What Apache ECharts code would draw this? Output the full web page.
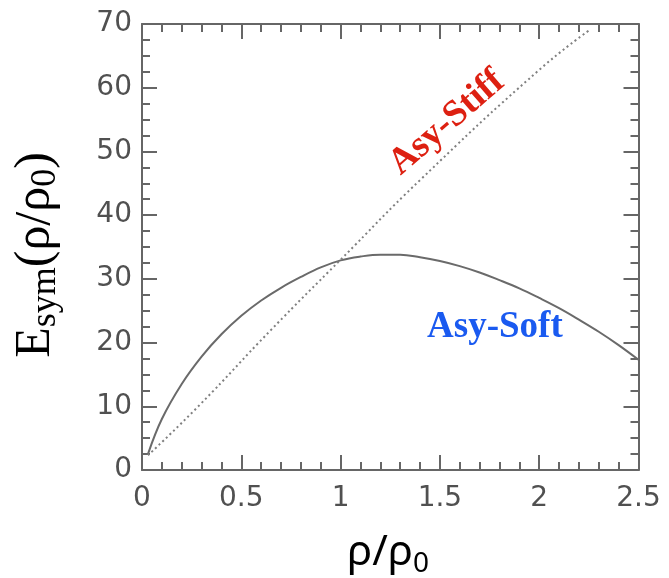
<!DOCTYPE html>
<html>
<head>
<meta charset="utf-8">
<script src="https://cdn.jsdelivr.net/npm/echarts@6/dist/echarts.min.js"></script>
<style>
  html, body { margin: 0; padding: 0; background: #fff; }
  #chart { width: 669px; height: 578px; }
</style>
</head>
<body>
<div id="chart"></div>
<script>
// Axis ranges and tick values
const xTicks = [0, 0.5, 1, 1.5, 2, 2.5];
const yTicks = [0, 10, 20, 30, 40, 50, 60, 70];

// Asy-Soft symmetry energy (density ratio, MeV)
const softRho = [0.03, 0.1, 0.2, 0.3, 0.4, 0.5, 0.6, 0.7, 0.8, 0.9, 1.0, 1.1, 1.2, 1.3,
                 1.4, 1.5, 1.6, 1.7, 1.8, 1.9, 2.0, 2.1, 2.2, 2.3, 2.4, 2.5];
const softE   = [2.5, 8.0, 13.5, 17.8, 21.3, 24.2, 26.6, 28.6, 30.3, 31.8, 32.9, 33.5, 33.8, 33.8,
                 33.4, 32.8, 32.0, 31.0, 29.8, 28.5, 27.0, 25.4, 23.6, 21.7, 19.6, 17.3];

// Asy-Stiff symmetry energy
const stiffRho = [0.03, 0.29, 0.65, 1.00, 1.40, 2.00, 2.26];
const stiffE   = [2.3, 10.2, 22.0, 33.0, 45.5, 62.8, 69.2];

// Curve annotations: [rho, E] anchor of each label
const stiffLabelAt = [1.536, 54.5];
const softLabelAt  = [1.777, 22.3];

const axisColor = '#666';
const tickLabelColor = '#505050';

function pairs(xs, ys) { return xs.map((x, i) => [x, ys[i]]); }

function xAxisCfg(pos, showLabels) {
  return {
    type: 'value', position: pos,
    min: xTicks[0], max: xTicks[xTicks.length - 1], interval: xTicks[1] - xTicks[0],
    axisLine: { show: true, onZero: false, lineStyle: { color: axisColor, width: 2 } },
    axisTick: { show: true, inside: true, length: 15, lineStyle: { color: axisColor, width: 2 } },
    minorTick: { show: true, splitNumber: 5, length: 8, lineStyle: { color: axisColor, width: 2 } },
    splitLine: { show: false },
    axisLabel: {
      show: showLabels, margin: 15, color: tickLabelColor,
      fontFamily: 'DejaVu Sans', fontSize: 28,
      formatter: v => String(v)
    }
  };
}

function yAxisCfg(pos, showLabels) {
  return {
    type: 'value', position: pos,
    min: yTicks[0], max: yTicks[yTicks.length - 1], interval: yTicks[1] - yTicks[0],
    axisLine: { show: true, onZero: false, lineStyle: { color: axisColor, width: 2 } },
    axisTick: { show: true, inside: true, length: 15, lineStyle: { color: axisColor, width: 2 } },
    minorTick: { show: true, splitNumber: 4, length: 8, lineStyle: { color: axisColor, width: 2 } },
    splitLine: { show: false },
    axisLabel: {
      show: showLabels, margin: 10, color: tickLabelColor,
      fontFamily: 'DejaVu Sans', fontSize: 28,
      formatter: v => String(v)
    }
  };
}

const chart = echarts.init(document.getElementById('chart'), null, { renderer: 'canvas' });

chart.setOption({
  animation: false,
  backgroundColor: '#fff',
  grid: { left: 142, right: 30.5, top: 24, bottom: 108 },
  xAxis: [xAxisCfg('bottom', true), xAxisCfg('top', false)],
  yAxis: [yAxisCfg('left', true), yAxisCfg('right', false)],
  series: [
    {
      name: 'Asy-Soft', type: 'line', xAxisIndex: 0, yAxisIndex: 0,
      data: pairs(softRho, softE), smooth: 0.4, showSymbol: false,
      lineStyle: { color: '#6a6a6a', width: 2 }
    },
    {
      name: 'Asy-Stiff', type: 'line', xAxisIndex: 0, yAxisIndex: 0,
      data: pairs(stiffRho, stiffE), smooth: true, showSymbol: false,
      lineStyle: { color: '#808080', width: 2, type: [2, 3] }
    }
  ]
});

// Place the text annotations and axis titles
const pStiff = chart.convertToPixel({ gridIndex: 0 }, stiffLabelAt);
const pSoft = chart.convertToPixel({ gridIndex: 0 }, softLabelAt);

chart.setOption({
  graphic: [
    {
      type: 'text', x: pStiff[0], y: pStiff[1], rotation: 41 * Math.PI / 180,
      style: {
        text: 'Asy-Stiff', fill: '#dd2011',
        font: 'bold 37px "Liberation Serif", serif',
        align: 'center', verticalAlign: 'middle'
      }
    },
    {
      type: 'text', x: pSoft[0], y: pSoft[1],
      style: {
        text: 'Asy-Soft', fill: '#1a5af0',
        font: 'bold 37px "Liberation Serif", serif',
        align: 'center', verticalAlign: 'middle'
      }
    },
    {
      type: 'text', x: 36, y: 255, rotation: Math.PI / 2,
      style: {
        text: '{m|E}{s|sym}{m|(ρ/ρ}{s|0}{m|)}',
        align: 'center', verticalAlign: 'middle',
        rich: {
          m: { fontFamily: 'Liberation Serif', fontSize: 50, fill: '#000' },
          s: { fontFamily: 'Liberation Serif', fontSize: 36, fill: '#000', padding: [20, 0, 0, 0] }
        }
      }
    },
    {
      type: 'text', x: 388, y: 553,
      style: {
        text: '{m|ρ/ρ}{s|0}',
        align: 'center', verticalAlign: 'middle',
        rich: {
          m: { fontFamily: 'Noto Sans', fontSize: 42, fill: '#000' },
          s: { fontFamily: 'Noto Sans', fontSize: 28, fill: '#000', padding: [22, 0, 0, 0] }
        }
      }
    }
  ]
});
</script>
</body>
</html>
